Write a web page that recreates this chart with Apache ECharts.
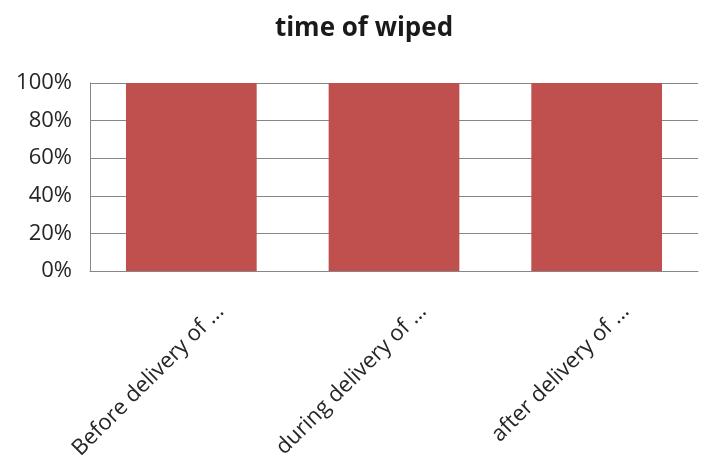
<!DOCTYPE html>
<html>
<head>
<meta charset="utf-8">
<script src="https://cdn.jsdelivr.net/npm/echarts@6/dist/echarts.min.js"></script>
<style>
  html, body { margin: 0; padding: 0; background: #ffffff; }
  #chart { width: 701px; height: 458px; }
</style>
</head>
<body>
<div id="chart"></div>
<script>
// Chart content
const titleText = 'time of wiped';
const categories = ['Before delivery of ...', 'during delivery of ...', 'after delivery of ...'];
const shareValues = [100, 100, 100];   // percent
const yTicks = [0, 20, 40, 60, 80, 100];

const fontFamily = '"Open Sans", "Noto Sans", sans-serif';
const chart = echarts.init(document.getElementById('chart'), null, { renderer: 'canvas' });

chart.setOption({
  animation: false,
  backgroundColor: '#ffffff',
  title: {
    text: titleText,
    left: 359,
    top: 11,
    textAlign: 'center',
    textStyle: { fontFamily, fontSize: 26, fontWeight: 'bold', color: '#1a1a1a' }
  },
  grid: {
    left: 90, right: 3, top: 83, bottom: 187,
    containLabel: false,
    outerBoundsMode: 'none'
  },
  xAxis: {
    type: 'category',
    data: categories,
    axisLine: { show: true, lineStyle: { color: '#868686', width: 1 } },
    axisTick: { show: false },
    axisLabel: {
      rotate: 45,
      interval: 0,
      margin: 8,
      align: 'right',
      verticalAlign: 'top',
      padding: [30, 0, 0, 0],
      fontFamily,
      fontSize: 22,
      color: '#262626'
    },
    splitLine: { show: false }
  },
  yAxis: {
    type: 'value',
    min: yTicks[0],
    max: yTicks[yTicks.length - 1],
    interval: yTicks[1] - yTicks[0],
    axisLine: { show: true, lineStyle: { color: '#868686', width: 1 } },
    axisTick: { show: false },
    axisLabel: {
      margin: 18,
      formatter: v => v + '%',
      fontFamily,
      fontSize: 22,
      color: '#262626'
    },
    splitLine: { show: true, lineStyle: { color: '#868686', width: 1 } }
  },
  series: [{
    type: 'bar',
    data: shareValues,
    barWidth: '64.5%',
    itemStyle: { color: '#C0504D' }
  }]
});
</script>
</body>
</html>
